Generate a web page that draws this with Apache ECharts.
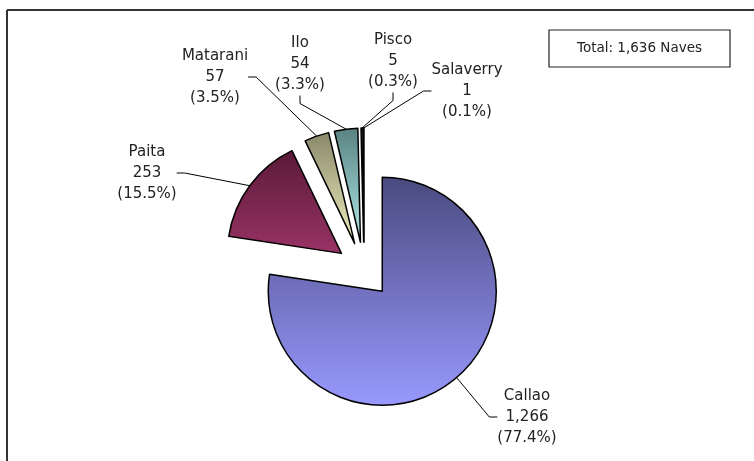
<!DOCTYPE html>
<html>
<head>
<meta charset="utf-8">
<script src="https://cdn.jsdelivr.net/npm/echarts@6/dist/echarts.min.js"></script>
<style>
  html, body { margin: 0; padding: 0; background: #fff; }
  #chart { width: 754px; height: 461px; }
</style>
</head>
<body>
<div id="chart"></div>
<script>
// Naves por puerto
const ports = ['Callao', 'Paita', 'Matarani', 'Ilo', 'Pisco', 'Salaverry'];
const ships = [1266, 253, 57, 54, 5, 1];

// gradient colours, top -> bottom
const topColors = ['#4a4a80', '#5a1a38', '#88886a', '#5a8282', '#333333', '#333333'];
const bottomColors = ['#9999ff', '#993366', '#f0f0c0', '#b0eaea', '#777777', '#777777'];

// where each label sits (pixel centre)
const labelPos = [[527, 417], [147, 173], [215, 77], [300, 64], [393, 61], [467, 91]];

const total = ships.reduce(function (a, b) { return a + b; }, 0);
const fmt = function (n) { return n.toLocaleString('en-US'); };

const cx = 364, cy = 270, explode = 28;

var chart = echarts.init(document.getElementById('chart'));

// one pie per slice so every slice can be pulled out of the centre
// and still keep its own label layout
var series = [];
var cum = 0;
ports.forEach(function (port, i) {
    var mid = (cum + ships[i] / 2) / total * 2 * Math.PI;
    cum += ships[i];
    series.push({
        type: 'pie',
        center: [cx + explode * Math.sin(mid), cy - explode * Math.cos(mid)],
        radius: 114,
        startAngle: 90,
        clockwise: true,
        silent: true,
        avoidLabelOverlap: false,
        emphasis: { disabled: true },
        label: {
            show: true,
            color: '#222',
            fontSize: 15,
            lineHeight: 21,
            fontFamily: 'DejaVu Sans',
            formatter: function (p) {
                return p.name + '\n' + fmt(p.value) + '\n(' + (p.value / total * 100).toFixed(1) + '%)';
            }
        },
        labelLine: {
            show: true,
            length: 12,
            length2: 8,
            lineStyle: { color: '#000', width: 1 }
        },
        labelLayout: function (params) {
            var pos = labelPos[params.dataIndex];
            return { x: pos[0], y: pos[1], align: 'center', verticalAlign: 'middle' };
        },
        data: ports.map(function (name, j) {
            if (j !== i) {
                return {
                    name: name,
                    value: ships[j],
                    itemStyle: { color: 'rgba(0,0,0,0)', borderWidth: 0 },
                    label: { show: false },
                    labelLine: { show: false }
                };
            }
            return {
                name: name,
                value: ships[j],
                itemStyle: {
                    borderColor: '#000',
                    borderWidth: 1.5,
                    color: new echarts.graphic.LinearGradient(0, 0, 0, 1, [
                        { offset: 0, color: topColors[j] },
                        { offset: 1, color: bottomColors[j] }
                    ])
                }
            };
        })
    });
});

var option = {
    animation: false,
    textStyle: { fontFamily: 'DejaVu Sans' },
    graphic: [
        // frame (only top and left edges visible)
        { type: 'line', shape: { x1: 7, y1: 10, x2: 754, y2: 10 }, style: { stroke: '#333', lineWidth: 2 } },
        { type: 'line', shape: { x1: 7, y1: 10, x2: 7, y2: 461 }, style: { stroke: '#333', lineWidth: 2 } },
        {
            type: 'rect',
            shape: { x: 549, y: 30, width: 181, height: 37 },
            style: { fill: '#fff', stroke: '#222', lineWidth: 1.2 }
        },
        {
            type: 'text',
            x: 639.5, y: 48.5,
            style: {
                text: 'Total: ' + fmt(total) + ' Naves',
                fontFamily: 'DejaVu Sans',
                fontSize: 13.5,
                fill: '#222',
                align: 'center',
                verticalAlign: 'middle'
            }
        }
    ],
    series: series
};

chart.setOption(option);
</script>
</body>
</html>
